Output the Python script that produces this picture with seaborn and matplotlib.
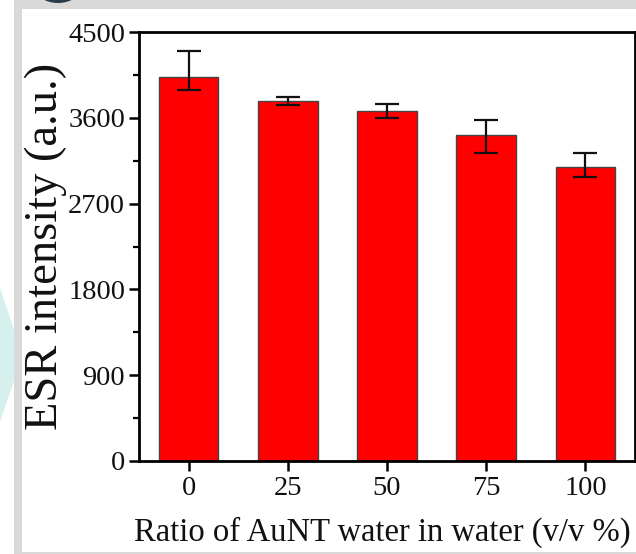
import matplotlib
matplotlib.use("Agg")
import matplotlib.pyplot as plt
import seaborn as sns
import pandas as pd
from matplotlib.patches import Rectangle, Polygon, Ellipse
from matplotlib.ticker import MultipleLocator

# ---- data ----
ratios = ["0", "25", "50", "75", "100"]
esr_values = [4032, 3781, 3676, 3420, 3082]
err_lower = [140, 46, 74, 185, 105]
err_upper = [270, 41, 67, 158, 153]
y_ticks = [0, 900, 1800, 2700, 3600, 4500]

W, H = 636, 554
sns.set_theme(style="white")
plt.rcParams["font.family"] = ["Liberation Serif", "DejaVu Serif"]

fig = plt.figure(figsize=(W / 100, H / 100), dpi=100)
fig.patch.set_facecolor("white")

def px_rect(x0, y0, x1, y1, **kw):
    return Rectangle((x0 / W, 1 - y1 / H), (x1 - x0) / W, (y1 - y0) / H,
                     transform=fig.transFigure, **kw)

# background decorations from the screenshot
fig.add_artist(Polygon([(0 / W, 1 - 288 / H), (16 / W, 1 - 335 / H),
                        (16 / W, 1 - 375 / H), (0 / W, 1 - 422 / H)],
                       closed=True, transform=fig.transFigure,
                       facecolor="#d6f0ee", edgecolor="none", zorder=0))
fig.add_artist(px_rect(14, 0, W, 9, facecolor="#d9d9d9", edgecolor="none", zorder=0))
fig.add_artist(px_rect(14, 0, 22, H, facecolor="#d9d9d9", edgecolor="none", zorder=0))
fig.add_artist(px_rect(14, 552, W, H, facecolor="#d9d9d9", edgecolor="none", zorder=0))
fig.add_artist(Ellipse((58 / W, 1 - (-14) / H), 48 / W, 34 / H,
                       transform=fig.transFigure, facecolor="#2b3a48",
                       edgecolor="none", zorder=1))

ax = fig.add_axes([139 / W, 1 - 461 / H, (635 - 139) / W, (461 - 32) / H])
ax.set_facecolor("white")

df = pd.DataFrame({"ratio": ratios, "esr": esr_values})
sns.barplot(data=df, x="ratio", y="esr", color="#ff0000", saturation=1,
            edgecolor="#444444", linewidth=1.0, width=0.6, errorbar=None, ax=ax)
ax.errorbar(x=list(range(len(ratios))), y=esr_values, yerr=[err_lower, err_upper],
            fmt="none", ecolor="#111111", elinewidth=1.6, capsize=8.5, capthick=1.6,
            zorder=5)

ax.set_xlim(-0.5, len(ratios) - 0.5)
ax.set_ylim(0, 4500)
ax.set_yticks(y_ticks)
ax.yaxis.set_minor_locator(MultipleLocator(450))

for s in ax.spines.values():
    s.set_visible(True)
    s.set_color("black")
    s.set_linewidth(2.0)

ax.tick_params(axis="both", which="major", direction="out", length=7, width=1.8,
               color="black", labelsize=20.5, pad=3, labelcolor="#111111")
ax.tick_params(axis="y", which="minor", direction="out", length=4, width=1.6,
               color="black", left=True)
ax.tick_params(axis="x", which="major", bottom=True, pad=4)
ax.tick_params(axis="y", which="major", left=True)

ax.set_xlabel("Ratio of AuNT water in water (v/v %)", fontsize=23.5,
              color="#111111", labelpad=6)
ax.xaxis.set_label_coords(0.491, -0.131)
ax.xaxis.label.set_va("top")
ax.set_ylabel("ESR intensity (a.u.)", fontsize=33.5, color="#111111", labelpad=0.5)

fig.savefig("out.png", dpi=100)
